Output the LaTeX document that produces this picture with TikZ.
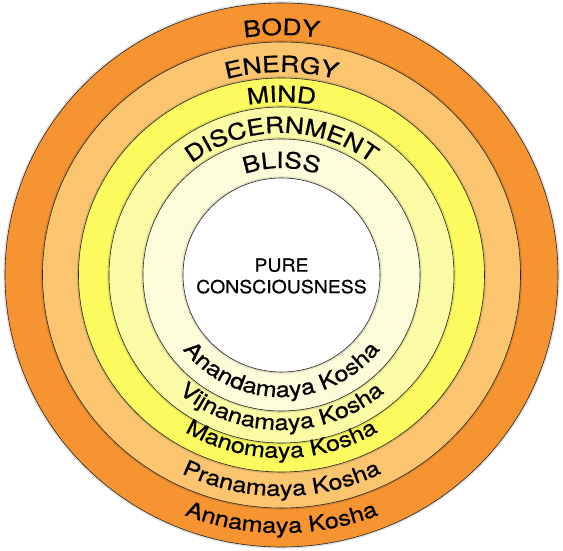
\documentclass[tikz,border=0pt]{standalone}
\usepackage{fontspec}
\setmainfont{TeX Gyre Heros}
\newfontfamily\koshafont[FakeStretch=1.17,FakeBold=0.6]{TeX Gyre Heros}
\newfontfamily\purefont[FakeStretch=1.08,FakeBold=0.5]{TeX Gyre Heros}
\usetikzlibrary{decorations.text}
\definecolor{annacol}{RGB}{247,148,50}
\definecolor{pranacol}{RGB}{251,197,112}
\definecolor{manocol}{RGB}{251,250,95}
\definecolor{vijnacol}{RGB}{251,251,165}
\definecolor{anandacol}{RGB}{252,252,218}
\newcommand{\englishfont}{\koshafont\fontsize{22.5}{26}\selectfont}
\newcommand{\sanskritfont}{\koshafont\fontsize{21.5}{25}\selectfont}
\newcommand{\corefont}{\purefont\fontsize{18}{21.6}\selectfont}

\begin{document}
\begin{tikzpicture}[x=1pt,y=1pt,
    ring/.style={draw=black!85,line width=0.6pt},
    ringshade/.style={draw=black,opacity=0.12,line width=3.5pt},
    uptext/.style={decorate,decoration={text along path,text align=center,text={|\englishfont|#1}}},
    downtext/.style={decorate,decoration={text along path,text align=center,text={|\sanskritfont|#1}}}]
  \useasboundingbox (-281.5,-276) rectangle (281.5,275);

  % the five sheaths, outside in
  \foreach \rx/\ry/\col in {276.5/272/annacol, 239/233/pranacol, 203/197/manocol,
                            172.5/168/vijnacol, 138.5/136/anandacol, 98.5/97/white}
  {
    \draw[ringshade] (0,0) ellipse[x radius=\rx,y radius=\ry];
    \draw[ring,fill=\col] (0,0) ellipse[x radius=\rx,y radius=\ry];
  }

  % names over the top
  \path[uptext=BODY]        (-245.3,0) arc[start angle=180,end angle=0,x radius=245.3,y radius=240];
  \path[uptext=ENERGY]      (-207.5,0) arc[start angle=180,end angle=0,x radius=207.5,y radius=203];
  \path[uptext=MIND]        (-176.8,0) arc[start angle=180,end angle=0,x radius=176.8,y radius=173];
  \path[uptext=DISCERNMENT] (-145.1,0) arc[start angle=180,end angle=0,x radius=145.1,y radius=142];
  \path[uptext=BLISS]       (-109.4,0) arc[start angle=180,end angle=0,x radius=109.4,y radius=107];

  % names under the bottom
  \path[downtext={Anandamaya Kosha}]  (-124.7,0) arc[start angle=180,end angle=360,x radius=124.7,y radius=122];
  \path[downtext={Vijnanamaya Kosha}] (-158.4,0) arc[start angle=180,end angle=360,x radius=158.4,y radius=155];
  \path[downtext={Manomaya Kosha}]    (-187.0,0) arc[start angle=180,end angle=360,x radius=187.0,y radius=183];
  \path[downtext={Pranamaya Kosha}]   (-225.9,0) arc[start angle=180,end angle=360,x radius=225.9,y radius=221];
  \path[downtext={Annamaya Kosha}]    (-263.7,0) arc[start angle=180,end angle=360,x radius=263.7,y radius=258];

  \node[align=center,font=\corefont,inner sep=0pt] (core) at (0,-1) {PURE\\CONSCIOUSNESS};
\end{tikzpicture}
\end{document}
